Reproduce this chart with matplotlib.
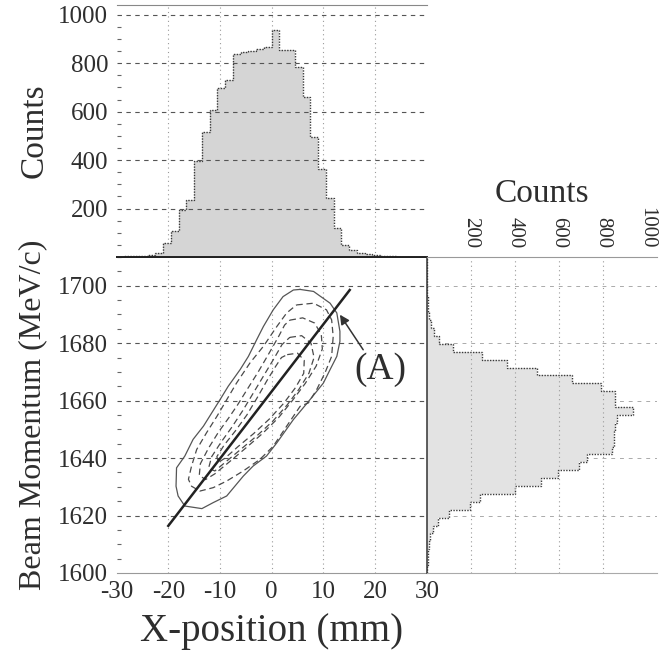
import numpy as np
import matplotlib
matplotlib.use("Agg")
import matplotlib.pyplot as plt
from matplotlib.ticker import MultipleLocator, FixedLocator

plt.rcParams["font.family"] = ["Liberation Serif", "DejaVu Serif"]
plt.rcParams["axes.unicode_minus"] = False
INK = "#2e2e2e"
plt.rcParams["text.color"] = INK
plt.rcParams["axes.labelcolor"] = INK
plt.rcParams["xtick.color"] = INK
plt.rcParams["ytick.color"] = INK

# X-position histogram: 40 bins of 1.5 mm between -30 and 30 mm
X_EDGES = np.arange(-30.0, 30.01, 1.5)
X_COUNTS = [2, 3, 4, 6, 10, 18, 56, 106, 196, 237,
            398, 517, 605, 698, 731, 837, 846, 850, 860, 868,
            937, 855, 855, 786, 660, 495, 365, 244, 121, 48,
            27, 18, 11, 7, 4, 3, 2, 1, 1, 0]

# momentum histogram: 40 bins of 2.75 MeV/c between 1600 and 1710 MeV/c
P_EDGES = np.arange(1600.0, 1710.01, 2.75)
P_COUNTS = [2, 4, 6, 8, 13, 28, 51, 101, 195, 241,
            400, 517, 598, 693, 727, 841, 848, 850, 856, 864,
            937, 856, 856, 790, 659, 499, 363, 249, 119, 56,
            31, 21, 8, 5, 4, 3, 2, 1, 1, 0]

# correlation contours (x in mm, p in MeV/c), outermost solid, the rest dashed
OUTER_X = [5.5, 8.1, 11.3, 12.6, 13.2, 13.2, 12.6, 11.3, 10.0, 7.4, 4.2, 1.0,
           -1.0, -3.6, -5.5, -8.7, -11.3, -13.5, -16.8, -18.1, -18.5, -18.4,
           -16.8, -15.2, -13.2, -10.0, -8.4, -6.1, -4.5, -2.9, -1.6, 0.3, 2.2, 4.2]
OUTER_P = [1698.7, 1698.0, 1693.9, 1690.5, 1684.1, 1680.6, 1675.4, 1670.8,
           1666.1, 1660.3, 1653.4, 1645.3, 1640.7, 1637.2, 1633.7, 1626.8,
           1624.5, 1622.4, 1623.3, 1626.8, 1630.2, 1636.6, 1640.7, 1646.5,
           1651.1, 1660.3, 1665.0, 1670.8, 1675.4, 1681.2, 1685.8, 1691.6,
           1696.2, 1698.5]

C1_X = [4.8, 8.1, 10.6, 11.6, 11.9, 11.6, 10.3, 8.7, 7.1, 5.5, 2.9, 0.3, -2.3,
        -5.5, -8.7, -11.3, -13.9, -15.5, -16.1, -15.5, -14.5, -12.6, -10.6,
        -8.7, -6.8, -4.2, -1.6, 1.0, 2.9]
C1_P = [1693.3, 1693.9, 1691.6, 1688.1, 1682.3, 1675.4, 1669.6, 1663.8, 1659.2,
        1658.0, 1651.1, 1644.1, 1639.5, 1635.5, 1632.0, 1629.7, 1628.5, 1630.2,
        1632.6, 1637.2, 1643.0, 1648.8, 1654.5, 1660.3, 1666.1, 1673.1, 1678.9,
        1685.8, 1690.5]

C2_X = [3.5, 6.0, 8.3, 9.6, 9.8, 8.6, 6.5, 4.0, 1.3, -1.8, -5.0, -8.3, -11.0,
        -12.8, -14.0, -13.8, -12.2, -10.3, -8.3, -6.6, -4.7, -2.6, -0.5, 1.4, 2.5]
C2_P = [1688.0, 1688.8, 1687.0, 1683.0, 1678.0, 1672.0, 1666.0, 1660.0, 1654.0,
        1648.5, 1643.5, 1638.5, 1634.5, 1632.5, 1634.0, 1638.0, 1643.5, 1649.0,
        1654.0, 1658.5, 1664.0, 1670.0, 1676.5, 1682.5, 1686.3]

C3_X = [3.5, 5.8, 7.6, 8.2, 7.2, 5.3, 3.0, 0.3, -2.7, -6.0, -9.0, -11.0, -12.2,
        -11.6, -9.8, -7.8, -5.6, -3.6, -1.6, 0.4, 2.0]
C3_P = [1682.0, 1682.6, 1680.0, 1675.0, 1669.5, 1664.0, 1658.5, 1653.0, 1648.0,
        1643.0, 1638.5, 1635.5, 1636.5, 1640.5, 1645.5, 1650.5, 1656.5, 1662.5,
        1668.5, 1674.5, 1679.5]

C4_X = [3.0, 5.0, 6.3, 6.2, 4.6, 2.3, -0.5, -3.5, -6.5, -9.0, -10.3, -10.6,
        -9.2, -7.0, -4.8, -2.8, -0.9, 0.8, 1.9]
C4_P = [1676.0, 1676.5, 1674.0, 1669.5, 1664.5, 1659.0, 1653.5, 1648.5, 1644.0,
        1640.0, 1638.5, 1640.5, 1644.5, 1649.5, 1655.0, 1661.0, 1667.0, 1672.0,
        1675.0]

# fitted correlation line
LINE_X = [-20.0, 15.1]
LINE_P = [1616.4, 1698.5]

# arrow pointing at the line, label (A)
ARROW_TIP = (13.2, 1689.9)
ARROW_TAIL = (17.7, 1677.7)
LABEL_A = (21.0, 1670.6)

HIST_FILL_TOP = "#d5d5d5"
HIST_FILL_RIGHT = "#e3e3e3"
HIST_EDGE = "#3a3a3a"
GRID_DASH = dict(color="#555555", lw=0.8, ls=(0, (4, 4)))
GRID_DOT = dict(color="#9a9a9a", lw=0.8, ls=(0, (1, 3)))

fig = plt.figure(figsize=(6.59, 6.54), dpi=100)
ax_main = fig.add_axes([0.1769, 0.1239, 0.4707, 0.4832])
ax_top = fig.add_axes([0.1769, 0.6070, 0.4707, 0.3853], sharex=ax_main)
ax_right = fig.add_axes([0.6476, 0.1239, 0.3493, 0.4832], sharey=ax_main)

# --- main panel -----------------------------------------------------------
ax_main.set_xlim(-30, 30)
ax_main.set_ylim(1600, 1710)
for gx in [-20, -10, 0, 10, 20]:
    ax_main.axvline(gx, zorder=0, **GRID_DOT)
for gy in [1620, 1640, 1660, 1680, 1700]:
    ax_main.axhline(gy, zorder=0, **GRID_DASH)

def closed(xs, ys):
    return list(xs) + [xs[0]], list(ys) + [ys[0]]

ax_main.plot(*closed(OUTER_X, OUTER_P), color="#555555", lw=0.9)
for cx, cp in [(C1_X, C1_P), (C2_X, C2_P), (C3_X, C3_P), (C4_X, C4_P)]:
    ax_main.plot(*closed(cx, cp), color="#4a4a4a", lw=0.9, ls=(0, (5, 3)))
ax_main.plot(LINE_X, LINE_P, color="#222222", lw=1.8)
ax_main.annotate("", xy=ARROW_TIP, xytext=ARROW_TAIL,
                 arrowprops=dict(arrowstyle="-|>", color="#333333", lw=1.1,
                                 mutation_scale=14, shrinkA=0, shrinkB=0))
ax_main.text(*LABEL_A, "(A)", fontsize=27, ha="center", va="center")

ax_main.xaxis.set_major_locator(MultipleLocator(10))
ax_main.yaxis.set_major_locator(MultipleLocator(20))
ax_main.yaxis.set_minor_locator(MultipleLocator(5))
ax_main.tick_params(axis="both", which="major", direction="in", length=0,
                    labelsize=18)
ax_main.tick_params(axis="x", pad=6)
ax_main.tick_params(axis="y", pad=6)
ax_main.tick_params(axis="y", which="minor", direction="in", length=3,
                    width=0.8, color="#666666")
ax_main.set_xlabel("X-position (mm)", fontsize=28, labelpad=7)
ax_main.set_ylabel("Beam Momentum (MeV/c)", fontsize=23, labelpad=8)
for side in ["left", "right"]:
    ax_main.spines[side].set_visible(False)
ax_main.spines["bottom"].set_color("#999999")
ax_main.spines["bottom"].set_linewidth(0.8)
ax_main.spines["top"].set_color("#222222")
ax_main.spines["top"].set_linewidth(1.4)

# --- top histogram ----------------------------------------------------------
ax_top.set_ylim(0, 1040)
for gx in [-20, -10, 0, 10, 20]:
    ax_top.axvline(gx, zorder=0, **GRID_DOT)
for gy in [200, 400, 600, 800, 1000]:
    ax_top.axhline(gy, zorder=3, **GRID_DASH)
ax_top.stairs(X_COUNTS, X_EDGES, fill=True, color=HIST_FILL_TOP, zorder=1)
ax_top.stairs(X_COUNTS, X_EDGES, color=HIST_EDGE, lw=1.0, ls=(0, (1, 1)),
              zorder=2)
ax_top.yaxis.set_major_locator(FixedLocator([200, 400, 600, 800, 1000]))
ax_top.yaxis.set_minor_locator(MultipleLocator(50))
ax_top.tick_params(axis="x", which="both", length=0, labelbottom=False)
ax_top.tick_params(axis="y", which="major", direction="in", length=0,
                   labelsize=18, pad=6)
ax_top.tick_params(axis="y", which="minor", direction="in", length=3,
                   width=0.8, color="#666666")
ax_top.set_ylabel("Counts", fontsize=24, labelpad=6)
for side in ["left", "right"]:
    ax_top.spines[side].set_visible(False)
ax_top.spines["top"].set_color("#888888")
ax_top.spines["top"].set_linewidth(0.8)
ax_top.spines["bottom"].set_color("#222222")
ax_top.spines["bottom"].set_linewidth(1.4)

# --- right histogram --------------------------------------------------------
ax_right.set_xlim(0, 1045)
for gx in [200, 400, 600, 800]:
    ax_right.axvline(gx, zorder=3, **GRID_DOT)
for gy in [1620, 1640, 1660, 1680, 1700]:
    ax_right.axhline(gy, zorder=0, color="#aaaaaa", lw=0.7, ls=(0, (4, 5)))
ax_right.stairs(P_COUNTS, P_EDGES, fill=True, color=HIST_FILL_RIGHT,
                orientation="horizontal", zorder=1)
ax_right.stairs(P_COUNTS, P_EDGES, color=HIST_EDGE, lw=1.0, ls=(0, (1, 1)),
                orientation="horizontal", zorder=2)
ax_right.xaxis.tick_top()
ax_right.xaxis.set_label_position("top")
ax_right.xaxis.set_major_locator(FixedLocator([200, 400, 600, 800, 1000]))
ax_right.tick_params(axis="x", which="major", direction="in", length=0,
                     labelsize=15, pad=6, labelrotation=-90)
ax_right.tick_params(axis="y", which="both", length=0, labelleft=False)
ax_right.set_xlabel("Counts", fontsize=24, labelpad=4)
ax_right.spines["right"].set_visible(False)
ax_right.spines["left"].set_color("#333333")
ax_right.spines["left"].set_linewidth(1.1)
ax_right.spines["top"].set_color("#999999")
ax_right.spines["top"].set_linewidth(0.8)
ax_right.spines["bottom"].set_color("#aaaaaa")
ax_right.spines["bottom"].set_linewidth(0.8)

fig.savefig("out.png", dpi=100)
